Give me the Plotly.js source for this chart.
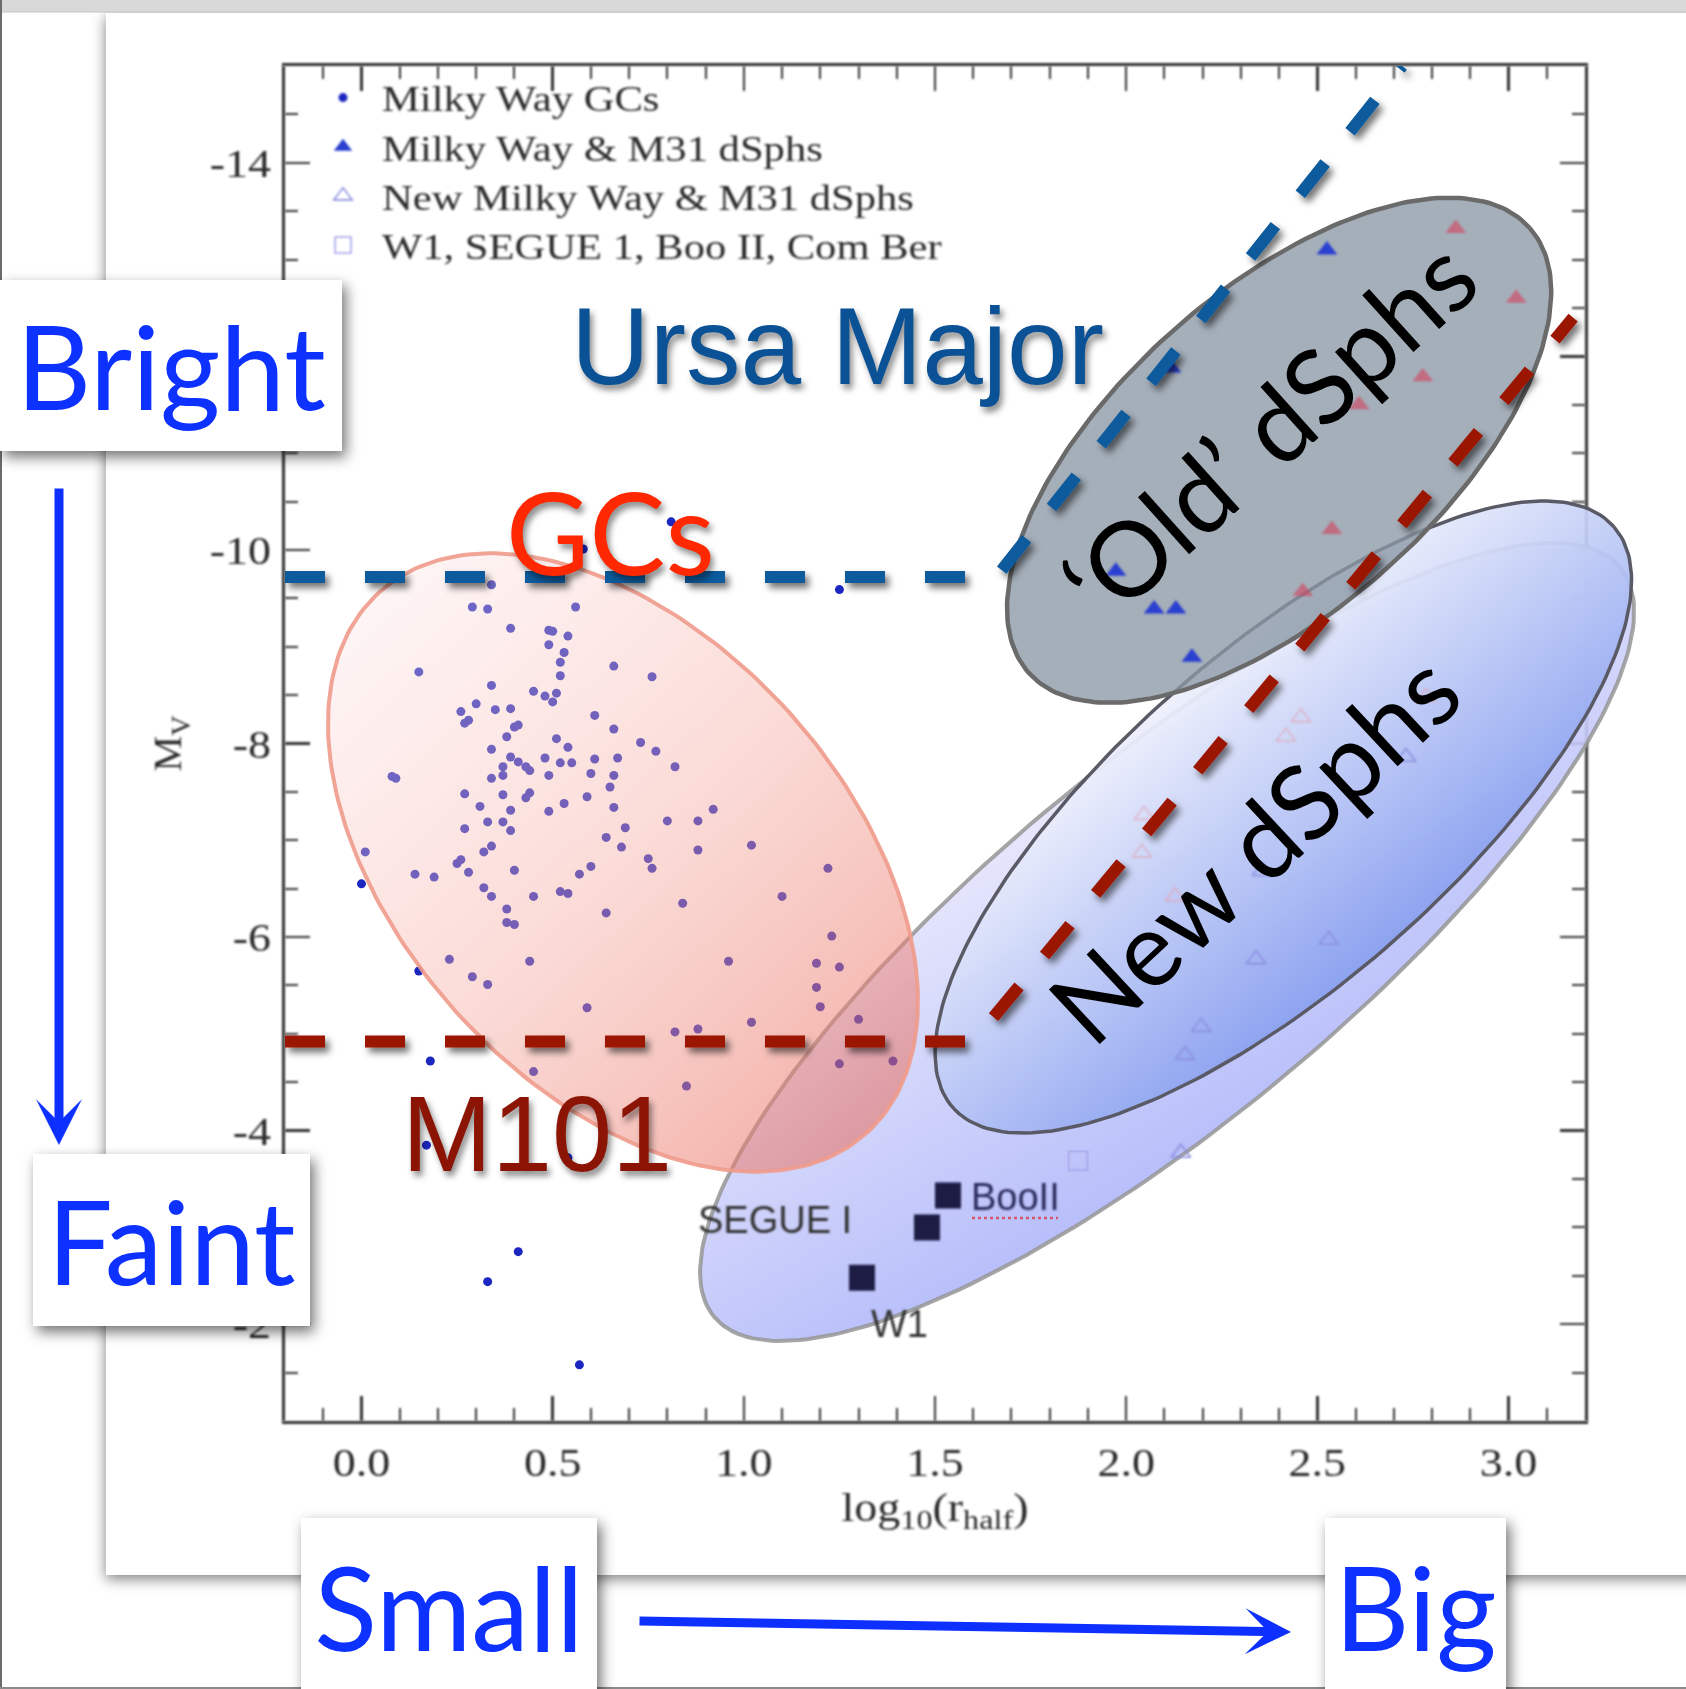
<!DOCTYPE html>
<html>
<head>
<meta charset="utf-8">
<script src="https://cdn.plot.ly/plotly-3.0.1.min.js"></script>
<style>
  html, body { margin: 0; padding: 0; background: #fff; }
  #chart { width: 1686px; height: 1689px; }
</style>
</head>
<body>
<svg style="position:absolute;width:0;height:0;overflow:hidden" aria-hidden="true">
  <defs>
    <filter id="fSoft" x="-5%" y="-5%" width="110%" height="110%"><feGaussianBlur stdDeviation="0.85"/></filter>
    <filter id="fSoftDots" x="-5%" y="-5%" width="110%" height="110%"><feGaussianBlur stdDeviation="0.5"/></filter>
    <filter id="fBox" x="-20%" y="-20%" width="150%" height="150%"><feDropShadow dx="4" dy="6" stdDeviation="7" flood-color="#000" flood-opacity="0.55"/></filter>
    <filter id="fCard" x="-10%" y="-10%" width="120%" height="120%"><feDropShadow dx="0" dy="4" stdDeviation="7" flood-color="#000" flood-opacity="0.5"/></filter>
    <filter id="fLine" x="-10%" y="-10%" width="130%" height="130%"><feDropShadow dx="4" dy="5" stdDeviation="3.5" flood-color="#000" flood-opacity="0.55"/></filter>
    <linearGradient id="gLav" x1="0.36" y1="0.30" x2="0.64" y2="0.70">
      <stop offset="0" stop-color="rgb(232,232,252)" stop-opacity="0.9"/>
      <stop offset="1" stop-color="rgb(176,183,250)" stop-opacity="0.9"/>
    </linearGradient>
    <linearGradient id="gPink" x1="0.10" y1="0.05" x2="0.90" y2="0.95">
      <stop offset="0" stop-color="rgb(252,225,225)" stop-opacity="0.35"/>
      <stop offset="0.5" stop-color="rgb(245,170,160)" stop-opacity="0.42"/>
      <stop offset="1" stop-color="rgb(232,110,95)" stop-opacity="0.56"/>
    </linearGradient>
    <linearGradient id="gBlue" x1="0.30" y1="0.28" x2="0.70" y2="0.72">
      <stop offset="0" stop-color="rgb(247,248,253)" stop-opacity="0.92"/>
      <stop offset="1" stop-color="rgb(128,153,238)" stop-opacity="0.92"/>
    </linearGradient>
  </defs>
</svg>
<div id="chart"></div>
<script>
// ---------- data: log10(r_half) and absolute magnitude M_V ----------
// Milky Way globular clusters
const gcLogR = [0.58,0.34,0.29,0.33,0.56,0.39,0.49,0.50,0.54,0.49,0.53,0.52,0.52,0.66,0.15,0.34,0.45,0.48,0.51,0.50,
  0.26,0.30,0.28,0.27,0.35,0.39,0.61,0.41,0.40,0.66,0.38,0.51,0.54,0.34,0.39,0.41,0.37,0.37,0.43,0.44,
  0.48,0.52,0.55,0.61,0.67,0.34,0.49,0.60,0.66,0.09,0.08,0.27,0.37,0.44,0.43,0.65,0.59,0.31,0.39,0.49,
  0.53,0.66,0.33,0.37,0.39,0.27,0.69,0.64,0.34,0.32,0.68,0.01,0.26,0.25,0.28,0.14,0.19,0.40,0.60,0.57,
  0.00,0.32,0.34,0.45,0.52,0.54,0.38,0.38,0.40,0.64,0.23,0.44,0.15,0.29,0.33,0.81,1.25,0.76,0.73,0.77,
  0.82,0.92,0.88,0.80,0.88,1.02,0.75,0.76,1.22,1.10,0.84,1.23,0.96,1.19,1.25,1.19,1.20,1.02,1.30,0.88,
  0.82,0.59,1.25,1.39,0.85,0.45,0.18,0.17,0.54,0.41,0.33,0.57];
const gcMv = [-10.01,-9.64,-9.41,-9.39,-9.41,-9.19,-9.17,-9.16,-9.11,-9.02,-8.94,-8.84,-8.70,-8.80,-8.74,-8.60,-8.54,-8.49,-8.52,-8.43,
  -8.33,-8.41,-8.24,-8.21,-8.35,-8.36,-8.29,-8.19,-8.17,-8.15,-8.07,-8.05,-7.96,-7.94,-7.86,-7.81,-7.76,-7.67,-7.76,-7.72,
  -7.85,-7.80,-7.80,-7.84,-7.85,-7.64,-7.67,-7.69,-7.67,-7.64,-7.66,-7.48,-7.47,-7.49,-7.44,-7.55,-7.45,-7.35,-7.31,-7.30,
  -7.38,-7.34,-7.19,-7.19,-7.10,-7.12,-7.13,-7.03,-6.94,-6.88,-6.93,-6.88,-6.80,-6.76,-6.67,-6.65,-6.62,-6.69,-6.73,-6.65,
  -6.55,-6.51,-6.42,-6.42,-6.47,-6.45,-6.29,-6.15,-6.13,-6.25,-5.77,-5.75,-5.65,-5.59,-5.51,-10.29,-9.59,-8.69,-8.01,-7.92,
  -7.76,-7.32,-7.20,-7.20,-6.90,-6.95,-6.81,-6.71,-6.71,-6.42,-6.35,-6.01,-5.75,-5.73,-5.69,-5.48,-5.28,-5.12,-5.15,-5.05,
  -5.02,-5.27,-4.69,-4.72,-4.46,-4.61,-4.72,-3.85,-3.72,-2.75,-2.44,-1.58];

// Milky Way & M31 dwarf spheroidals (filled)
const dsphLogR = [2.525, 2.117, 1.973, 2.073, 2.130, 2.172];
const dsphMv   = [-13.10, -11.88, -9.78, -9.39, -9.39, -8.89];
const m31LogR  = [2.862, 3.020, 2.776, 2.609, 2.538, 2.462];
const m31Mv    = [-13.32, -12.60, -11.79, -11.50, -10.21, -9.57];

// New Milky Way & M31 dwarf spheroidals (open)
const newLogR    = [2.732, 2.355, 2.530, 2.340, 2.196, 2.154, 2.143];
const newMv      = [-7.86, -6.68, -5.97, -5.77, -5.07, -4.78, -3.77];
const newM31LogR = [2.457, 2.418, 2.047, 2.041, 2.128, 2.784];
const newM31Mv   = [-8.27, -8.07, -7.26, -6.87, -6.42, -8.48];

// W1, SEGUE 1, Boo II, Com Ber
const faintLogR = [1.874];
const faintMv   = [-3.69];

// highlighted ultra-faint objects
const namedLabels = ['BooII', 'SEGUE I', 'W1'];
const namedLogR   = [1.534, 1.479, 1.309];
const namedMv     = [-3.33, -3.00, -2.48];

// limiting-magnitude cuts of the two surveys
const ursaLogR = [-0.2, 1.66, 2.722];
const ursaMv   = [-9.72, -9.72, -15.0];
const m101LogR = [-0.2, 1.60, 3.169];
const m101Mv   = [-4.92, -4.92, -12.40];

// axis ticks
const xTickVals = [0, 0.5, 1.0, 1.5, 2.0, 2.5, 3.0];
const xTickText = ['0.0', '0.5', '1.0', '1.5', '2.0', '2.5', '3.0'];
const yTickVals = [-14, -12, -10, -8, -6, -4, -2];
const yTickText = ['-14', '-12', '-10', '-8', '-6', '-4', '-2'];

// ---------- geometry ----------
const W = 1686, H = 1689;
const M = {l: 285, r: 101, t: 66, b: 268};
const XR = [-0.2, 3.2], YR = [-1, -15];
const PW = W - M.l - M.r, PH = H - M.t - M.b;
const SX = PW / (XR[1] - XR[0]);
const SY = PH / (YR[0] - YR[1]);
const paperX = px => (px - M.l) / PW;
const paperY = py => (H - M.b - py) / PH;

const xMinor = [], yMinor = [];
for (let i = -2; i <= 32; i++) xMinor.push(i / 10);
for (let i = -30; i <= -2; i++) yMinor.push(i / 2);

// ellipse outline: centre in data units, semi-axes in screen px, tilt in screen degrees
function ellipse(cx, cy, a, b, deg) {
  const r = deg * Math.PI / 180, xs = [], ys = [];
  for (let i = 0; i <= 240; i++) {
    const t = i / 240 * 2 * Math.PI;
    const dx = a * Math.cos(t) * Math.cos(r) - b * Math.sin(t) * Math.sin(r);
    const dy = a * Math.cos(t) * Math.sin(r) + b * Math.sin(t) * Math.cos(r);
    xs.push(cx + dx / SX);
    ys.push(cy + dy / SY);
  }
  return {xs, ys};
}

const lav  = ellipse(2.107, -5.95, 588, 178, -39.6);
const pink = ellipse(0.684, -6.77, 364, 224, 48);
const blue = ellipse(2.411, -7.24, 440, 166, -41.3);
const grey = ellipse(2.400, -11.03, 335, 160, -41.6);

const region = (e, fill, lc, lw) => ({type: 'scatter', mode: 'lines', x: e.xs, y: e.ys, fill: 'toself',
  fillcolor: fill, line: {color: lc, width: lw}, hoverinfo: 'skip', showlegend: false});

const traces = [
  region(lav, 'rgb(210,212,250)', 'rgba(150,150,150,0.85)', 4),
  {type: 'scatter', mode: 'markers', name: 'Milky Way GCs', x: gcLogR, y: gcMv, legendrank: 1, cliponaxis: false,
   marker: {symbol: 'circle', size: 9, color: '#1c26c0'}},
  region(pink, 'rgb(248,200,195)', 'rgba(240,155,140,0.9)', 4),
  region(blue, 'rgb(190,200,245)', '#5a5a66', 3.5),
  region(grey, 'rgba(140,152,166,0.78)', '#6a6a6a', 4.5),
  {type: 'scatter', mode: 'markers', name: 'New Milky Way &amp; M31 dSphs', x: newLogR, y: newMv, legendrank: 3,
   marker: {symbol: 'triangle-up-open', size: 17, color: '#8d90e0', line: {width: 1.6}}},
  {type: 'scatter', mode: 'markers', x: newM31LogR, y: newM31Mv, showlegend: false, opacity: 0.7,
   marker: {symbol: 'triangle-up-open', size: 17, color: '#e2a4b8', line: {width: 1.6}}},
  {type: 'scatter', mode: 'markers', name: 'W1, SEGUE 1, Boo II, Com Ber', x: faintLogR, y: faintMv, legendrank: 4,
   marker: {symbol: 'square-open', size: 19, color: '#a4a4e8', line: {width: 1.6}}},
  {type: 'scatter', mode: 'markers', name: 'Milky Way &amp; M31 dSphs', x: dsphLogR, y: dsphMv, legendrank: 2,
   marker: {symbol: 'triangle-up', size: 18, color: '#2a3fd0'}},
  {type: 'scatter', mode: 'markers', x: m31LogR, y: m31Mv, showlegend: false, opacity: 0.6,
   marker: {symbol: 'triangle-up', size: 18, color: '#d4405c'}},
  {type: 'scatter', mode: 'markers', x: namedLogR, y: namedMv, showlegend: false,
   marker: {symbol: 'square', size: 26, color: '#1b1b45'}},
  {type: 'scatter', mode: 'lines', x: ursaLogR, y: ursaMv, showlegend: false, hoverinfo: 'skip',
   line: {color: '#0a5a9c', width: 12, dash: '40px,40px'}},
  {type: 'scatter', mode: 'lines', x: m101LogR, y: m101Mv, showlegend: false, hoverinfo: 'skip',
   line: {color: '#9b1600', width: 12, dash: '40px,40px'}}
];

// ---------- annotations ----------
const BLUE = '#0d30ff';
const GILL = 'Gill Sans, Lato, sans-serif';
const SERIF = 'Liberation Serif, Times New Roman, serif';
const INK = '#2a2a2a';
const box = (text, cx, cy, w, h) => ({xref: 'paper', yref: 'paper', x: paperX(cx), y: paperY(cy),
  xanchor: 'center', yanchor: 'middle', text, showarrow: false, width: w, height: h,
  bgcolor: '#ffffff', borderpad: 0, borderwidth: 0, align: 'center', valign: 'middle',
  font: {family: GILL, size: 116, color: BLUE}});
const arrow = (tx, ty, ax, ay) => ({xref: 'paper', yref: 'paper', x: paperX(tx), y: paperY(ty),
  ax, ay, axref: 'pixel', ayref: 'pixel', text: '', showarrow: true, arrowhead: 3,
  arrowsize: 0.85, arrowwidth: 9, arrowcolor: BLUE, standoff: 0});
const SHADOW = '3px 5px 6px rgba(0,0,0,0.45)';
const label = (text, cx, cy, family, size, color, angle, shadow) => ({xref: 'paper', yref: 'paper',
  x: paperX(cx), y: paperY(cy), xanchor: 'center', yanchor: 'middle', text, showarrow: false,
  textangle: angle || 0, font: {family, size, color, shadow: shadow || 'none'}});

const annotations = [
  box('Bright', 171, 365.5, 342, 171),
  box('Faint', 171.5, 1240, 277, 172),
  box('Small', 449, 1606, 296, 176),
  box('Big', 1415.5, 1606, 181, 176),
  arrow(59, 1145, 0, -658),
  arrow(1291, 1632, -653, -11),
  label('Ursa Major', 837, 346, 'Liberation Sans, Arial, sans-serif', 109, '#0b5196', 0, SHADOW),
  label('GCs', 610, 530, GILL, 114, '#ff2800', 0, SHADOW),
  label('M101', 537, 1133, 'Liberation Sans, Arial, sans-serif', 108, '#8c1405', 0, SHADOW),
  label('\u2018Old\u2019 dSphs', 1268, 428, GILL, 104, '#000000', -42),
  label('New dSphs', 1252, 846, GILL, 104, '#000000', -43)
];
// labels of the highlighted objects, offset from their markers
const namedShift = [[67, -2], [-152, 7], [38, -46]];
namedLabels.forEach((t, i) => annotations.push({xref: 'x', yref: 'y', x: namedLogR[i], y: namedMv[i],
  xshift: namedShift[i][0], yshift: namedShift[i][1], text: t, showarrow: false,
  xanchor: 'center', yanchor: 'middle',
  font: {family: 'Liberation Sans, Arial, sans-serif', size: 38, color: i === 0 ? '#2c2c5a' : '#333333'}}));

const axisCommon = {
  ticks: 'inside', ticklen: 25, tickwidth: 2.5, tickcolor: '#333333',
  showline: true, linewidth: 3, linecolor: '#333333', mirror: 'ticks',
  showgrid: false, zeroline: false, layer: 'below traces', automargin: false, fixedrange: true,
  tickfont: {family: SERIF, size: 40, color: INK}
};

const layout = {
  width: W, height: H, autosize: false,
  margin: {l: M.l, r: M.r, t: M.t, b: M.b, pad: 0},
  paper_bgcolor: '#ffffff', plot_bgcolor: 'rgba(0,0,0,0)',
  showlegend: true,
  xaxis: Object.assign({}, axisCommon, {
    range: XR, tickmode: 'array', tickvals: xTickVals, ticktext: xTickText, ticklabelstandoff: 4,
    minor: {tickmode: 'array', tickvals: xMinor, ticks: 'inside', ticklen: 13, tickwidth: 2, tickcolor: '#333333', showgrid: false},
    title: {text: 'log<sub>10</sub>(r<sub>half</sub>)', standoff: 8,
            font: {family: SERIF, size: 40, color: INK}}
  }),
  yaxis: Object.assign({}, axisCommon, {
    range: YR, tickmode: 'array', tickvals: yTickVals, ticktext: yTickText, ticklabelstandoff: 3,
    minor: {tickmode: 'array', tickvals: yMinor, ticks: 'inside', ticklen: 13, tickwidth: 2, tickcolor: '#333333', showgrid: false},
    title: {text: 'M<sub>V</sub>', standoff: 24,
            font: {family: SERIF, size: 40, color: INK}}
  }),
  legend: {x: paperX(304), y: paperY(68), xanchor: 'left', yanchor: 'top', bgcolor: 'rgba(0,0,0,0)',
           borderwidth: 0, itemwidth: 68, traceorder: 'normal', tracegroupgap: 0,
           font: {family: SERIF, size: 35.5, color: INK}},
  shapes: [
    // slide card
    {type: 'rect', xref: 'paper', yref: 'paper', layer: 'below', x0: paperX(106), x1: paperX(1730),
     y0: paperY(1575), y1: paperY(13), fillcolor: '#ffffff', line: {width: 0}},
    // window chrome
    {type: 'rect', xref: 'paper', yref: 'paper', layer: 'below', x0: paperX(-10), x1: paperX(1700),
     y0: paperY(12), y1: paperY(-5), fillcolor: '#d9d9d9', line: {color: '#c2c2c2', width: 1}},
    {type: 'line', xref: 'paper', yref: 'paper', layer: 'above', x0: paperX(1), x1: paperX(1),
     y0: paperY(0), y1: paperY(1689), line: {color: '#6b6b6b', width: 2}},
    {type: 'line', xref: 'paper', yref: 'paper', layer: 'above', x0: paperX(0), x1: paperX(1686),
     y0: paperY(1688), y1: paperY(1688), line: {color: '#8a8a8a', width: 2}},
    // spell-check underline
    {type: 'line', xref: 'paper', yref: 'paper', layer: 'above', x0: paperX(972), x1: paperX(1058),
     y0: paperY(1218), y1: paperY(1218), line: {color: '#d3566a', width: 2.5, dash: 'dot'}}
  ],
  annotations
};

Plotly.newPlot('chart', traces, layout, {staticPlot: true}).then(gd => {
  const setF = (el, id) => { if (el) el.setAttribute('filter', 'url(#' + id + ')'); };
  setF(gd.querySelector('.layer-below .shapelayer path[data-index="0"]'), 'fCard');

  const trs = gd.querySelectorAll('.scatterlayer .trace');
  const paint = {0: 'gLav', 2: 'gPink', 3: 'gBlue'};
  [0, 2, 3, 4].forEach(i => {
    const tr = trs[i];
    if (!tr) return;
    tr.removeAttribute('clip-path');
    tr.querySelectorAll('[clip-path]').forEach(e => e.removeAttribute('clip-path'));
    if (paint[i]) {
      const f = tr.querySelector('.js-fill');
      if (f) { f.style.fill = 'url(#' + paint[i] + ')'; f.style.fillOpacity = 1; }
    }
  });
  setF(trs[1], 'fSoftDots');
  [5, 6, 7, 8, 9, 10].forEach(i => setF(trs[i], 'fSoft'));
  setF(trs[11], 'fLine');
  setF(trs[12], 'fLine');

  // the printed figure is a little wider-set than the fonts at hand
  const widen = (sel, k) => gd.querySelectorAll(sel).forEach(t => {
    const L = t.getComputedTextLength ? t.getComputedTextLength() : 0;
    if (L > 0) { t.setAttribute('textLength', (L * k).toFixed(1)); t.setAttribute('lengthAdjust', 'spacingAndGlyphs'); }
  });
  const lg = gd.querySelector('.legend');
  if (lg) {
    lg.removeAttribute('clip-path');
    lg.querySelectorAll('[clip-path]').forEach(e => e.removeAttribute('clip-path'));
  }
  widen('.legend text.legendtext', 1.2);
  widen('.xtick text, .ytick text', 1.15);
  widen('.g-xtitle text', 1.15);

  gd.querySelectorAll('[class*="xaxislayer"], [class*="yaxislayer"], [class*="xlines"], [class*="ylines"], .g-xtitle, .g-ytitle, .legend')
    .forEach(e => setF(e, 'fSoft'));

  const anns = gd.querySelectorAll('.infolayer .annotation');
  anns.forEach(a => {
    const k = +a.getAttribute('data-index');
    if (k <= 3) setF(a, 'fBox');
    if (k >= 11) setF(a, 'fSoft');
  });
});
</script>
</body>
</html>
